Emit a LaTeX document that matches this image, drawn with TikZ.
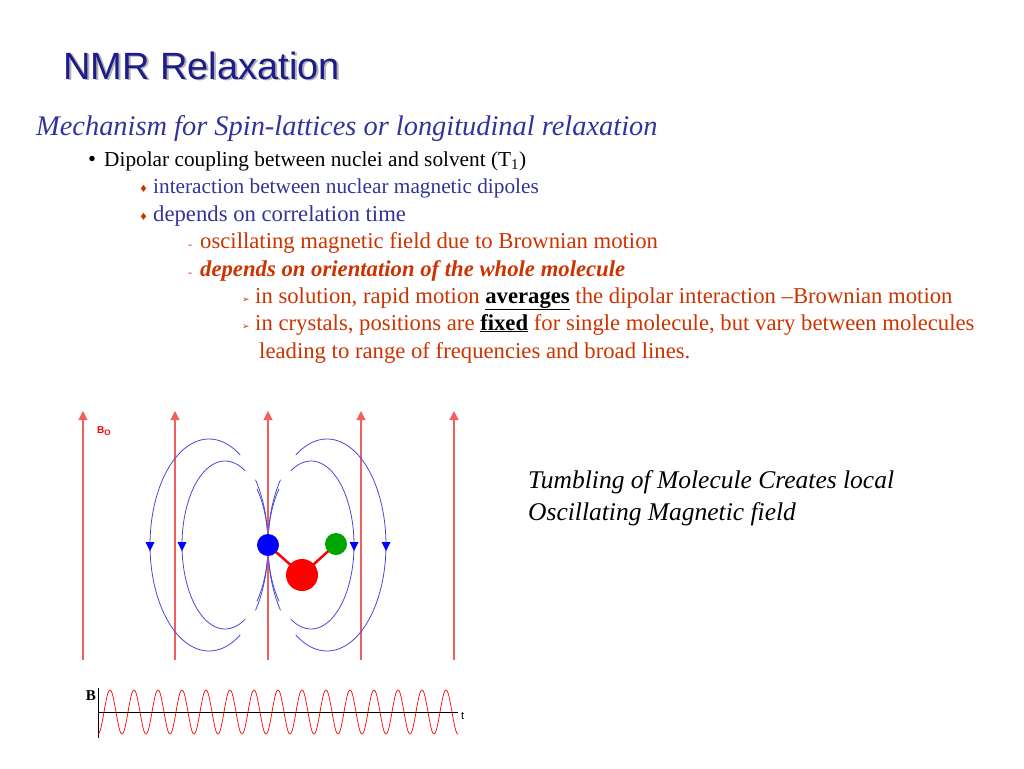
\documentclass[tikz,border=0pt]{standalone}
\usepackage{fontspec}
\setmainfont{Liberation Serif}
\newfontfamily\titlefont{Liberation Sans}
\newfontfamily\symfont{DejaVu Sans}
\usetikzlibrary{arrows.meta}
\definecolor{navy}{HTML}{1C1C8C}
\definecolor{tblue}{HTML}{333399}
\definecolor{tred}{HTML}{CC3300}
\definecolor{fline}{HTML}{F06060}
\definecolor{loopc}{HTML}{4848D8}
\begin{document}
\begin{tikzpicture}[x=1pt,y=-1pt,
  txt/.style={anchor=base west,inner sep=0pt,font=\fontsize{22.7}{26}\selectfont},
  field/.style={fline,line width=1.2pt,-{Triangle[length=9pt,width=9pt]}},
  loopl/.style={loopc,line width=0.8pt},
]
\useasboundingbox (0,0) rectangle (1024,768);
% title
\node[anchor=base west,inner sep=0pt,text=gray!60,font=\titlefont\fontsize{38}{40}\selectfont] at (65,81) {NMR Relaxation};
\node (title)[anchor=base west,inner sep=0pt,text=navy,font=\titlefont\fontsize{38}{40}\selectfont] at (63,79) {NMR Relaxation};
\node (sub)[txt,text=tblue,font=\fontsize{28.4}{30}\selectfont\itshape] at (36,135) {Mechanism for Spin-lattices or longitudinal relaxation};
% bullets
\node (b1)[txt] at (88,166) {\textbullet};
\node (t1)[txt,font=\fontsize{21.3}{24}\selectfont] at (104,166) {Dipolar coupling between nuclei and solvent (T\textsubscript{1})};
\node (b2)[txt,text=tred,font=\fontsize{10}{12}\selectfont] at (139,192) {\symfont ♦};
\node (t2)[txt,text=tblue,font=\fontsize{21.3}{24}\selectfont] at (153,193) {interaction between nuclear magnetic dipoles};
\node (b3)[txt,text=tred,font=\fontsize{10}{12}\selectfont] at (139,220) {\symfont ♦};
\node (t3)[txt,text=tblue] at (153,221) {depends on correlation time};
\node (b4)[txt,text=tred,font=\fontsize{12}{12}\selectfont] at (188,248) {-};
\node (t4)[txt,text=tred] at (200,248) {oscillating magnetic field due to Brownian motion};
\node (b5)[txt,text=tred,font=\fontsize{12}{12}\selectfont] at (188,276) {-};
\node (t5)[txt,text=tred,font=\fontsize{22.7}{26}\selectfont\bfseries\itshape] at (200,276) {depends on orientation of the whole molecule};
\node (b6)[txt,text=tred,font=\fontsize{9}{10}\selectfont] at (242,302) {\symfont ➢};
\node (t6)[txt,text=tred] at (255,303) {in solution, rapid motion \textcolor{black}{\textbf{\underline{averages}}} the dipolar interaction –Brownian motion};
\node (b7)[txt,text=tred,font=\fontsize{9}{10}\selectfont] at (242,329) {\symfont ➢};
\node (t7)[txt,text=tred] at (255,330) {in crystals, positions are \textcolor{black}{\textbf{\underline{fixed}}} for single molecule, but vary between molecules};
\node (t8)[txt,text=tred] at (259,358) {leading to range of frequencies and broad lines.};
% right caption
\node (c1)[txt,font=\fontsize{25.5}{28}\selectfont\itshape] at (528,488) {Tumbling of Molecule Creates local};
\node (c2)[txt,font=\fontsize{25.5}{28}\selectfont\itshape] at (528,520) {Oscillating Magnetic field};
% field lines
\foreach \x/\n in {83/f1,175/f2,268/f3,361/f4,454/f5}{
  \coordinate (\n s) at (\x,660); \coordinate (\n e) at (\x,411);
  \draw[field] (\n s) -- (\n e);
}
\node (bo)[anchor=base west,inner sep=0pt,text=red,font=\titlefont\bfseries\fontsize{10}{10}\selectfont] at (97,433) {B\raisebox{-2.5pt}{\fontsize{8}{8}\selectfont O}};
% dipolar loops
\begin{scope}[loopl]
 \foreach \s in {1,-1}{
  \begin{scope}[shift={(268,545)},xscale=\s]
   \draw plot[domain=58:302,samples=80] ({-59+59*cos(\x)},{-106*sin(\x)});
   \draw plot[domain=-38:38,samples=40] ({-59+59*cos(\x)},{-106*sin(\x)});
   \draw plot[domain=62:298,samples=80] ({-43+43*cos(\x)},{-84*sin(\x)});
   \draw plot[domain=-42:42,samples=40] ({-43+43*cos(\x)},{-84*sin(\x)});
   \fill[blue] (-118,6) -- ++(-4.5,-9) -- ++(9,0) -- cycle;
   \fill[blue] (-86,6) -- ++(-4.5,-9) -- ++(9,0) -- cycle;
  \end{scope}
 }
\end{scope}
\draw[violet!70,line width=2.5pt] (268,528) -- (268,536) (268,556) -- (268,564);
% molecule
\coordinate (m0) at (268,545);
\coordinate (m1) at (302,575);
\coordinate (m2) at (336,544);
\draw[red,line width=2.5pt] (m0) -- (m1) -- (m2);
\fill[blue] (m0) circle (11);
\fill[red] (m1) circle (16);
\fill[green!65!black] (m2) circle (11);
% wave
\coordinate (ax0) at (98,712); \coordinate (ax1) at (458,712);
\coordinate (ay0) at (98,688); \coordinate (ay1) at (98,738);
\draw[black,line width=0.6pt] (ax0) -- (ax1);
\draw[black,line width=0.6pt] (ay0) -- (ay1);
\draw[red,line width=0.7pt] plot[domain=0:360,samples=500] ({98+\x},{712+22*cos(15*\x)});
\node (bl)[anchor=base east,inner sep=0pt,font=\fontsize{15}{15}\selectfont\bfseries] at (96,700) {B};
\node (tl)[anchor=base west,inner sep=0pt,font=\titlefont\fontsize{11}{11}\selectfont] at (461,719) {t};
\end{tikzpicture}
\end{document}
